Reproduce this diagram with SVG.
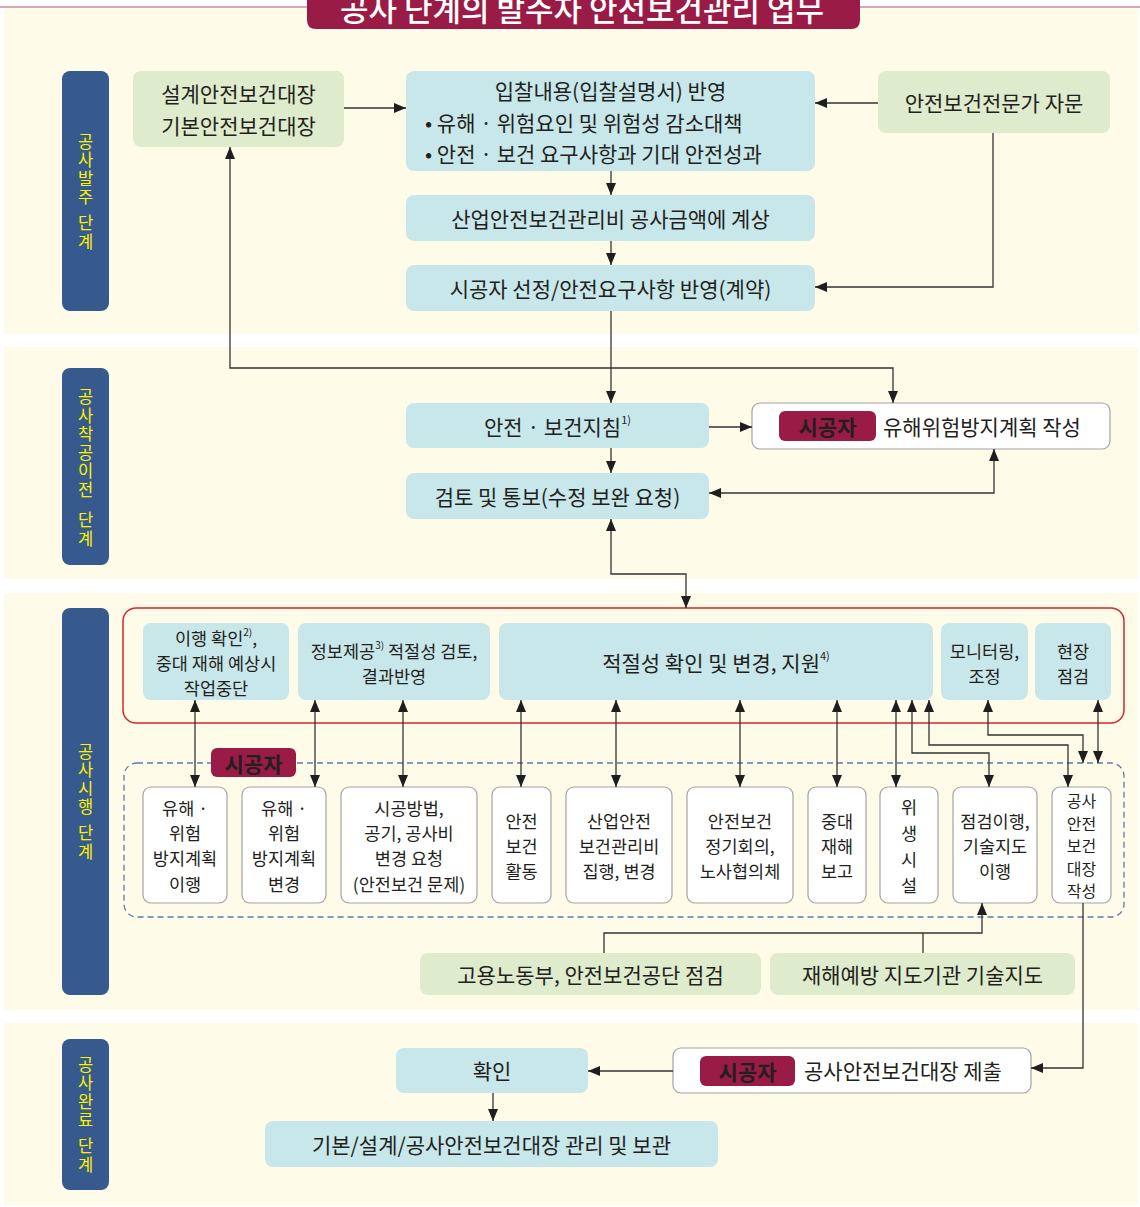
<svg xmlns="http://www.w3.org/2000/svg" width="1140" height="1207" viewBox="0 0 1140 1207">
<defs>
<style>
.band{fill:#FEFBE9}
.stage{fill:#365A8E}
.stxt{fill:#FFF200;font-family:"Noto Sans CJK KR","Noto Sans",sans-serif;font-size:16.5px;text-anchor:middle;writing-mode:vertical-rl;text-orientation:upright;letter-spacing:2px}
.lb{fill:#C8E7EA}
.gr{fill:#DEEBCD}
.wb{fill:#FFFFFF;stroke:#A3A3A3;stroke-width:1.2}
.badge{fill:#9A1B46}
.btxt{fill:#FFF200;font-weight:bold;font-size:20px}
.t{font-family:"Noto Sans CJK KR","Noto Sans",sans-serif;font-size:21px;fill:#231F20;text-anchor:middle;dominant-baseline:central}
.s{font-size:17.5px}
.l{text-anchor:start}
.conn path{fill:none;stroke:#333;stroke-width:1.3}
</style>
<marker id="ah" viewBox="0 0 12 10" markerWidth="12" markerHeight="10" refX="12" refY="5" orient="auto-start-reverse" markerUnits="userSpaceOnUse">
<path d="M0,0 L12,5 L0,10 z" fill="#1E1E1E"/>
</marker>
</defs>
<rect width="1140" height="1207" fill="#FFFFFF"/>
<g id="bands">
<rect class="band" x="4" y="8" width="1134" height="326"/>
<rect class="band" x="4" y="347" width="1134" height="232"/>
<rect class="band" x="4" y="593" width="1134" height="417"/>
<rect class="band" x="4" y="1023" width="1134" height="182"/>
<line x1="0" y1="7" x2="1140" y2="7" stroke="#C98A9B" stroke-width="1.6"/>
</g>
<g id="title">
<path d="M307,-10 H860 V20 Q860,29 851,29 H316 Q307,29 307,20 Z" fill="#9A1B46"/>
<text x="582" y="7" style="font-family:'Noto Sans CJK KR',sans-serif;font-size:31px;fill:#FFFFFF;text-anchor:middle;dominant-baseline:central;font-weight:500">공사 단계의 발주자 안전보건관리 업무</text>
</g>
<g id="stage1">
<rect class="stage" x="62" y="71" width="47" height="240" rx="8"/>
<text class="stxt" x="85.5" y="170">공사발주</text>
<text class="stxt" x="85.5" y="233">단계</text>
</g>
<g id="stage2">
<rect class="stage" x="62" y="368" width="47" height="197" rx="8"/>
<text class="stxt" x="85.5" y="444">공사착공이전</text>
<text class="stxt" x="85.5" y="530">단계</text>
</g>
<g id="stage3">
<rect class="stage" x="62" y="608" width="47" height="387" rx="8"/>
<text class="stxt" x="85.5" y="780">공사시행</text>
<text class="stxt" x="85.5" y="843">단계</text>
</g>
<g id="stage4">
<rect class="stage" x="62" y="1039" width="47" height="151" rx="8"/>
<text class="stxt" x="85.5" y="1093">공사완료</text>
<text class="stxt" x="85.5" y="1156">단계</text>
</g>

<g id="n-design">
<rect class="gr" x="133" y="71" width="211" height="76" rx="8"/>
<text class="t" x="238.5" y="93">설계안전보건대장</text>
<text class="t" x="238.5" y="125">기본안전보건대장</text>
</g>
<g id="n-bid">
<rect class="lb" x="406" y="71" width="409" height="100" rx="8"/>
<text class="t" x="610.5" y="90">입찰내용(입찰설명서) 반영</text>
<text class="t l" x="425" y="122">• 유해 · 위험요인 및 위험성 감소대책</text>
<text class="t l" x="425" y="153">• 안전 · 보건 요구사항과 기대 안전성과</text>
</g>
<g id="n-expert">
<rect class="gr" x="878" y="71" width="232" height="62" rx="8"/>
<text class="t" x="994" y="102">안전보건전문가 자문</text>
</g>
<g id="n-cost">
<rect class="lb" x="406" y="195" width="409" height="46" rx="8"/>
<text class="t" x="610.5" y="218">산업안전보건관리비 공사금액에 계상</text>
</g>
<g id="n-select">
<rect class="lb" x="406" y="265" width="409" height="46" rx="8"/>
<text class="t" x="610.5" y="288">시공자 선정/안전요구사항 반영(계약)</text>
</g>

<g id="n-guide">
<rect class="lb" x="406" y="403" width="303" height="45" rx="8"/>
<text class="t" x="557.5" y="426">안전 · 보건지침<tspan font-size="11" dy="-7">1)</tspan></text>
</g>
<g id="n-plan">
<rect class="wb" x="752" y="403" width="358" height="46" rx="8"/>
<rect class="badge" x="779" y="411" width="97" height="30" rx="6"/>
<text class="t btxt" x="827.5" y="426">시공자</text>
<text class="t l" x="883" y="426">유해위험방지계획 작성</text>
</g>
<g id="n-review">
<rect class="lb" x="406" y="473" width="303" height="46" rx="8"/>
<text class="t" x="557.5" y="496">검토 및 통보(수정 보완 요청)</text>
</g>

<g id="n-owner-group">
<rect x="123" y="608" width="1001" height="115" rx="13" fill="none" stroke="#D9262E" stroke-width="1.5"/>
</g>
<g id="n-confirm">
<rect class="lb" x="143" y="623" width="146" height="77" rx="8"/>
<text class="t s" x="216" y="637">이행 확인<tspan font-size="10" dy="-6">2)</tspan><tspan dy="6">,</tspan></text>
<text class="t s" x="216" y="662">중대 재해 예상시</text>
<text class="t s" x="216" y="687">작업중단</text>
</g>
<g id="n-info">
<rect class="lb" x="298" y="623" width="192" height="77" rx="8"/>
<text class="t s" x="394" y="650">정보제공<tspan font-size="10" dy="-6">3)</tspan><tspan dy="6"> 적절성 검토,</tspan></text>
<text class="t s" x="394" y="675">결과반영</text>
</g>
<g id="n-adequacy">
<rect class="lb" x="499" y="623" width="434" height="77" rx="8"/>
<text class="t" x="716" y="662">적절성 확인 및 변경, 지원<tspan font-size="11" dy="-7">4)</tspan></text>
</g>
<g id="n-monitor">
<rect class="lb" x="941" y="623" width="87" height="77" rx="8"/>
<text class="t s" x="984.5" y="650">모니터링,</text>
<text class="t s" x="984.5" y="675">조정</text>
</g>
<g id="n-site">
<rect class="lb" x="1035" y="623" width="76" height="77" rx="8"/>
<text class="t s" x="1073" y="650">현장</text>
<text class="t s" x="1073" y="675">점검</text>
</g>

<g id="n-contractor-group">
<rect x="124" y="763" width="1000" height="154" rx="13" fill="none" stroke="#5B7CA9" stroke-width="1.3" stroke-dasharray="6 4"/>
<rect class="badge" x="211" y="748" width="85" height="29" rx="6"/>
<text class="t btxt" x="253.5" y="762.5">시공자</text>
</g>
<g id="n-b1">
<rect class="wb" x="143" y="787" width="84" height="116" rx="8"/>
<text class="t s" x="185" y="807">유해 ·</text>
<text class="t s" x="185" y="832">위험</text>
<text class="t s" x="185" y="857">방지계획</text>
<text class="t s" x="185" y="883">이행</text>
</g>
<g id="n-b2">
<rect class="wb" x="242" y="787" width="84" height="116" rx="8"/>
<text class="t s" x="284" y="807">유해 ·</text>
<text class="t s" x="284" y="832">위험</text>
<text class="t s" x="284" y="857">방지계획</text>
<text class="t s" x="284" y="883">변경</text>
</g>
<g id="n-b3">
<rect class="wb" x="341" y="787" width="136" height="116" rx="8"/>
<text class="t s" x="409" y="807">시공방법,</text>
<text class="t s" x="409" y="832">공기, 공사비</text>
<text class="t s" x="409" y="857">변경 요청</text>
<text class="t s" x="409" y="883">(안전보건 문제)</text>
</g>
<g id="n-b4">
<rect class="wb" x="492" y="787" width="59" height="116" rx="8"/>
<text class="t s" x="521.5" y="820">안전</text>
<text class="t s" x="521.5" y="845">보건</text>
<text class="t s" x="521.5" y="870">활동</text>
</g>
<g id="n-b5">
<rect class="wb" x="566" y="787" width="106" height="116" rx="8"/>
<text class="t s" x="619" y="820">산업안전</text>
<text class="t s" x="619" y="845">보건관리비</text>
<text class="t s" x="619" y="870">집행, 변경</text>
</g>
<g id="n-b6">
<rect class="wb" x="687" y="787" width="106" height="116" rx="8"/>
<text class="t s" x="740" y="820">안전보건</text>
<text class="t s" x="740" y="845">정기회의,</text>
<text class="t s" x="740" y="870">노사협의체</text>
</g>
<g id="n-b7">
<rect class="wb" x="808" y="787" width="58" height="116" rx="8"/>
<text class="t s" x="837" y="820">중대</text>
<text class="t s" x="837" y="845">재해</text>
<text class="t s" x="837" y="870">보고</text>
</g>
<g id="n-b8">
<rect class="wb" x="880" y="787" width="58" height="116" rx="8"/>
<text class="t s" x="909" y="806">위</text>
<text class="t s" x="909" y="832">생</text>
<text class="t s" x="909" y="858">시</text>
<text class="t s" x="909" y="884">설</text>
</g>
<g id="n-b9">
<rect class="wb" x="953" y="787" width="84" height="116" rx="8"/>
<text class="t s" x="995" y="820">점검이행,</text>
<text class="t s" x="995" y="845">기술지도</text>
<text class="t s" x="995" y="870">이행</text>
</g>
<g id="n-b10">
<rect class="wb" x="1052" y="787" width="59" height="116" rx="8"/>
<text class="t" style="font-size:16px" x="1081.5" y="800">공사</text>
<text class="t" style="font-size:16px" x="1081.5" y="822.5">안전</text>
<text class="t" style="font-size:16px" x="1081.5" y="845">보건</text>
<text class="t" style="font-size:16px" x="1081.5" y="867.5">대장</text>
<text class="t" style="font-size:16px" x="1081.5" y="890">작성</text>
</g>
<g id="n-ministry">
<rect class="gr" x="420" y="953" width="341" height="42" rx="8"/>
<text class="t" x="590.5" y="974">고용노동부, 안전보건공단 점검</text>
</g>
<g id="n-agency">
<rect class="gr" x="770" y="953" width="305" height="42" rx="8"/>
<text class="t" x="922.5" y="974">재해예방 지도기관 기술지도</text>
</g>

<g id="n-submit">
<rect class="wb" x="673" y="1048" width="358" height="45" rx="8"/>
<rect class="badge" x="700" y="1056" width="95" height="30" rx="6"/>
<text class="t btxt" x="747.5" y="1071">시공자</text>
<text class="t l" x="804" y="1070">공사안전보건대장 제출</text>
</g>
<g id="n-check">
<rect class="lb" x="396" y="1048" width="192" height="45" rx="8"/>
<text class="t" x="492" y="1070">확인</text>
</g>
<g id="n-archive">
<rect class="lb" x="265" y="1121" width="453" height="46" rx="8"/>
<text class="t" x="491.5" y="1144">기본/설계/공사안전보건대장 관리 및 보관</text>
</g>

<g id="connectors" class="conn">
<path d="M344,108 H406" marker-end="url(#ah)"/>
<path d="M878,103 H815" marker-end="url(#ah)"/>
<path d="M611,171 V195" marker-end="url(#ah)"/>
<path d="M611,241 V265" marker-end="url(#ah)"/>
<path d="M993,133 V287 H815" marker-end="url(#ah)"/>
<path d="M611,311 V403" marker-end="url(#ah)"/>
<path d="M230,147 V368 H893 V403" marker-start="url(#ah)" marker-end="url(#ah)"/>
<path d="M709,427 H752" marker-end="url(#ah)"/>
<path d="M611,448 V473" marker-end="url(#ah)"/>
<path d="M709,493 H994 V449" marker-start="url(#ah)" marker-end="url(#ah)"/>
<path d="M611,519 V574 H686 V608" marker-start="url(#ah)" marker-end="url(#ah)"/>
<path d="M195,700 V787" marker-start="url(#ah)" marker-end="url(#ah)"/>
<path d="M315,700 V787" marker-start="url(#ah)" marker-end="url(#ah)"/>
<path d="M403,700 V787" marker-start="url(#ah)" marker-end="url(#ah)"/>
<path d="M521,700 V787" marker-start="url(#ah)" marker-end="url(#ah)"/>
<path d="M616,700 V787" marker-start="url(#ah)" marker-end="url(#ah)"/>
<path d="M740,700 V787" marker-start="url(#ah)" marker-end="url(#ah)"/>
<path d="M837,700 V787" marker-start="url(#ah)" marker-end="url(#ah)"/>
<path d="M896,700 V787" marker-start="url(#ah)" marker-end="url(#ah)"/>
<path d="M912,700 V753 H989 V787" marker-start="url(#ah)" marker-end="url(#ah)"/>
<path d="M929,700 V745 H1068 V787" marker-start="url(#ah)" marker-end="url(#ah)"/>
<path d="M988,700 V735 H1083 V763" marker-start="url(#ah)" marker-end="url(#ah)"/>
<path d="M1098,700 V763" marker-start="url(#ah)" marker-end="url(#ah)"/>
<path d="M604,953 V933 H982 V903" marker-end="url(#ah)"/>
<path d="M923,953 V933"/>
<path d="M1083,903 V1068 H1031" marker-end="url(#ah)"/>
<path d="M673,1071 H588" marker-end="url(#ah)"/>
<path d="M493,1093 V1121" marker-end="url(#ah)"/>
</g>
</svg>
